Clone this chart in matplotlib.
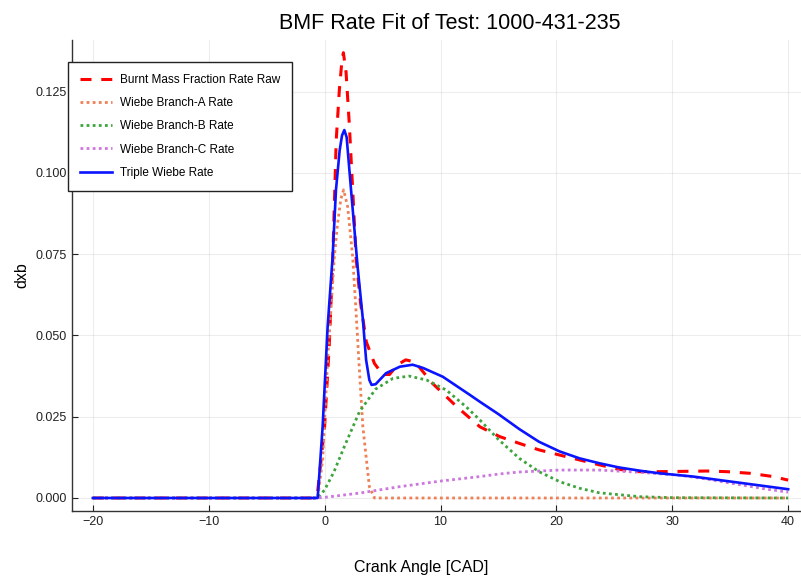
import numpy as np
import matplotlib
matplotlib.use("Agg")
import matplotlib.pyplot as plt

plt.rcParams['font.family'] = ['Liberation Sans', 'DejaVu Sans']

# values
raw_x = [-20, -1, -0.6, 0, 0.4, 0.7, 1.0, 1.27, 1.5, 1.62, 1.85, 2.13, 2.42, 2.71, 3.1, 3.6,
         4.3, 5.0, 5.6, 6.3, 7.0, 7.6, 8.0, 9.3, 11.4, 13.4, 15.1, 16.8, 18.5, 20.3, 22.0,
         23.7, 25.4, 27.2, 28.9, 31.0, 33.0, 34.7, 36.7, 38.7, 40]
raw_y = [0, 0, 0.002, 0.022, 0.047, 0.073, 0.110, 0.1255, 0.1348, 0.137, 0.131, 0.115, 0.095,
         0.074, 0.060, 0.048, 0.0414, 0.038, 0.038, 0.041, 0.0425, 0.042, 0.041, 0.0353, 0.0281,
         0.0219, 0.0189, 0.0168, 0.0148, 0.0132, 0.0117, 0.0102, 0.0088, 0.0081, 0.0081, 0.0082,
         0.0083, 0.0081, 0.0076, 0.0066, 0.0055]

a_x = [-20, -0.6, -0.17, 0.26, 0.84, 1.12, 1.4, 1.64, 1.99, 2.42, 2.7, 2.95, 3.3, 3.86, 4.3, 40]
a_y = [0, 0, 0.0117, 0.0425, 0.0742, 0.0845, 0.092, 0.0948, 0.0896, 0.0742, 0.058, 0.0425,
       0.0219, 0.0035, 0, 0]

b_x = [-20, -0.6, 0, 0.8, 1.7, 3.0, 4.4, 5.9, 7.3, 8.8, 10.5, 12.2, 13.4, 15.0, 16.8, 18.5,
       20.3, 22.0, 23.7, 27.2, 30, 40]
b_y = [0, 0, 0.0025, 0.008, 0.0158, 0.0265, 0.0335, 0.0368, 0.0375, 0.0363, 0.0332, 0.0281,
       0.0240, 0.0180, 0.0122, 0.0081, 0.005, 0.003, 0.0016, 0.0004, 0.0001, 0]

c_x = [-20, -0.6, 0, 3.0, 6.5, 10.0, 13.4, 15.1, 16.8, 20.3, 23.7, 27.2, 30.7, 33, 36, 38, 40]
c_y = [0, 0, 0.0002, 0.0015, 0.0035, 0.0052, 0.0066, 0.0074, 0.0080, 0.0086, 0.0086, 0.0079,
       0.0070, 0.0058, 0.0040, 0.0028, 0.0018]

fit_x = [-20, -0.6, -0.17, 0.26, 0.69, 0.98, 1.3, 1.5, 1.7, 1.9, 2.28, 2.85, 3.3, 3.58, 3.86,
         4.05, 4.4, 5.3, 6.5, 7.6, 8.5, 10.2, 12.5, 13.4, 15.0, 16.8, 18.5, 20.3, 22.0, 23.7,
         25.4, 27.2, 28.9, 31.8, 35.8, 40]
fit_y = [0, 0, 0.022, 0.0527, 0.0742, 0.0948, 0.107, 0.1115, 0.1132, 0.111, 0.0948, 0.071,
         0.055, 0.0425, 0.0363, 0.0348, 0.035, 0.0384, 0.0404, 0.041, 0.040, 0.0373, 0.0318,
         0.0296, 0.0258, 0.0212, 0.0173, 0.0143, 0.0122, 0.0107, 0.0094, 0.0084, 0.0076,
         0.0066, 0.0047, 0.0027]

fig = plt.figure(figsize=(8.01, 5.8), dpi=100)
ax = fig.add_axes([72 / 801, 1 - 511 / 580, 737 / 801, 471 / 580])

ax.plot(raw_x, raw_y, color='#ff0000', ls=(0, (3.6, 3.2)), lw=2.2, label='Burnt Mass Fraction Rate Raw')
ax.plot(a_x, a_y, color='#ef7f55', ls=(0, (1, 1.2)), lw=2.0, label='Wiebe Branch-A Rate')
ax.plot(b_x, b_y, color='#3da33d', ls=(0, (1, 1.2)), lw=2.0, label='Wiebe Branch-B Rate')
ax.plot(c_x, c_y, color='#cc77dd', ls=(0, (1, 1.2)), lw=2.0, label='Wiebe Branch-C Rate')
ax.plot(fit_x, fit_y, color='#0a14ff', lw=1.9, label='Triple Wiebe Rate')

ax.set_xlim(-21.8, 41.8)
ax.set_ylim(-0.004, 0.1409)
ax.set_xticks([-20, -10, 0, 10, 20, 30, 40])
ax.set_yticks([0, 0.025, 0.05, 0.075, 0.1, 0.125])
ax.set_yticklabels(['0.000', '0.025', '0.050', '0.075', '0.100', '0.125'])
ax.tick_params(direction='in', length=4, labelsize=9, colors='#222222', width=0.8)
ax.grid(True, color='#000000', alpha=0.07, lw=0.8)
for s in ['top', 'right']:
    ax.spines[s].set_visible(False)
for s in ['left', 'bottom']:
    ax.spines[s].set_color('#333333')
    ax.spines[s].set_linewidth(1.0)

ax.set_title('BMF Rate Fit of Test: 1000-431-235', fontsize=15.5, pad=8, x=(450 - 72) / 737)
ax.set_xlabel('Crank Angle [CAD]', fontsize=11.5)
ax.xaxis.set_label_coords((421 - 72) / 737, -0.105)
ax.set_ylabel('dxb', fontsize=11.5)
ax.yaxis.set_label_coords(-0.058, 0.5)

leg = ax.legend(loc='upper left', bbox_to_anchor=(-0.005, 0.953), borderaxespad=0,
                fontsize=8.5, fancybox=False, framealpha=1, edgecolor='#222222',
                handlelength=2.7, handletextpad=0.7, labelspacing=0.95, borderpad=1.0)
leg.get_frame().set_linewidth(1.0)

fig.savefig('out.png', dpi=100)
